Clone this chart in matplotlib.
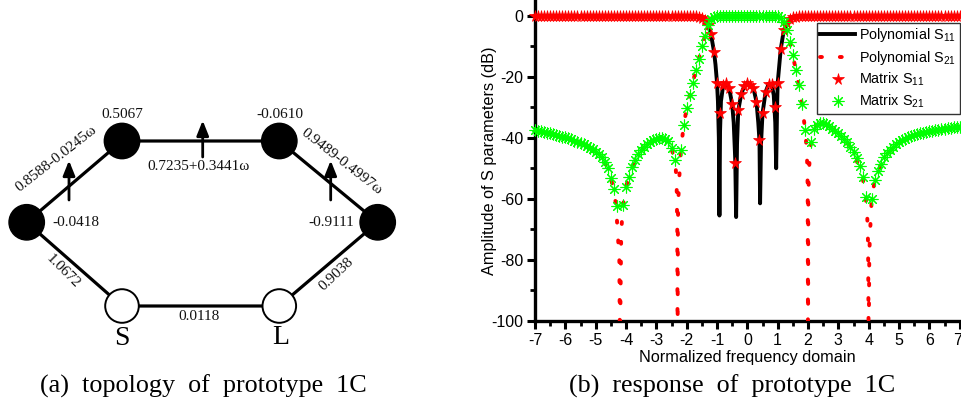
import numpy as np
import matplotlib
matplotlib.use("Agg")
import matplotlib.pyplot as plt
from matplotlib.patches import Circle
from matplotlib.transforms import ScaledTranslation

nan = np.nan

# values
freq = [i / 10 for i in range(-70, 71)]

matrix_s11 = [
    0, 0, 0, 0, 0, 0, 0, 0, 0, 0,
    0, 0, 0, 0, 0, 0, 0, 0, 0, 0,
    0, 0, 0, 0, 0, 0, 0, 0, 0, 0,
    0, 0, 0, 0, 0, 0, 0, 0, 0, 0,
    0, 0, 0, 0, 0, 0, 0, 0, 0, 0,
    0, -0.1, -0.1, -0.2, -0.4, -0.7, -1.3, -3.0, -6.0, -11.7,
    -22.0, -32.0, -22.6, -22.0, -23.7, -29.0, -48.3, -31.0, -25.6, -23.0,
    -21.9, -22.7, -23.7, -28.1, -40.7, -32.0, -25.0, -22.4, -22.4, -30.0,
    -22.0, -11.0, -4.8, -2.4, -0.9, -0.5, -0.3, -0.2, -0.1, -0.1,
    0, 0, 0, 0, 0, 0, 0, 0, 0, 0,
    0, 0, 0, 0, 0, 0, 0, 0, 0, 0,
    0, 0, 0, 0, 0, 0, 0, 0, 0, 0,
    0, 0, 0, 0, 0, 0, 0, 0, 0, 0,
    0, 0, 0, 0, 0, 0, 0, 0, 0, 0,
    0,
]

matrix_s21 = [
    -37.5, -37.7, -37.9, -38.1, -38.3, -38.5, -38.8, -39.0, -39.3, -39.6,
    -39.9, -40.2, -40.5, -40.9, -41.3, -41.7, -42.1, -42.6, -43.2, -43.8,
    -44.6, -45.4, -46.4, -48.0, -50.0, -53.2, -56.8, -62.3, nan, -62.0,
    -56.0, -52.7, -49.7, -47.2, -45.4, -44.0, -43.0, -42.1, -41.4, -40.8,
    -40.4, -40.2, -40.1, -40.4, -41.2, -43.5, -47.2, nan, -44.0, -35.7,
    -30.3, -26.0, -21.9, -17.7, -14.1, -10.0, -6.6, -3.1, -0.9, -0.4,
    -0.2, -0.1, -0.1, 0, 0, 0, 0, 0, 0, 0,
    0, 0, 0, 0, 0, 0, 0, 0, -0.1, -0.1,
    -0.2, -0.7, -2.0, -4.8, -8.6, -13.0, -17.7, -22.8, -29.0, -37.4,
    nan, -41.5, -37.0, -35.7, -35.2, -35.2, -35.6, -36.2, -37.0, -37.7,
    -38.5, -39.4, -40.4, -41.5, -43.0, -44.6, -46.7, -49.3, -53.0, -59.4,
    nan, -60.0, -54.0, -51.0, -48.5, -46.4, -45.0, -43.9, -42.9, -42.1,
    -41.4, -40.8, -40.3, -39.8, -39.4, -39.1, -38.8, -38.5, -38.3, -38.1,
    -37.9, -37.7, -37.5, -37.3, -37.2, -37.0, -36.9, -36.7, -36.6, -36.5,
    -36.4,
]

poly_s11_x = [-7, -2, -1.6, -1.4, -1.3, -1.2, -1.1, -1.05, -1.0, -0.97, -0.94, -0.92, -0.90, -0.87,
              -0.8, -0.7, -0.6, -0.5, -0.45, -0.40, -0.37, -0.34, -0.3, -0.2, -0.1,
              0, 0.1, 0.2, 0.3, 0.36, 0.40, 0.42, 0.45, 0.5, 0.6, 0.7, 0.8, 0.87,
              0.92, 0.95, 0.98, 1.0, 1.1, 1.2, 1.3, 1.4, 1.6, 2, 7]
poly_s11_y = [0, 0, -0.4, -1.3, -3, -6, -11.7, -16, -22, -28, -40, -65.5, -38, -28,
              -23, -22, -23.7, -29, -35, -47, -66, -42, -31, -25.6, -23,
              -21.9, -22.7, -23.7, -28.1, -35, -41, -61.5, -42, -32, -25, -22.4, -22.4, -26,
              -35, -50, -30, -22, -11, -4.8, -2.4, -0.9, -0.3, 0, 0]

poly_s21_x = [-7, -6, -5.5, -5, -4.7, -4.5, -4.4, -4.33, -4.28, -4.22, -4.2, -4.16, -4.13, -4.06, -4.0,
              -3.8, -3.5, -3.2, -2.9, -2.7, -2.5, -2.4, -2.36, -2.33, -2.31, -2.30, -2.29, -2.28,
              -2.25, -2.22, -2.17, -2.1, -2.0, -1.8, -1.6, -1.4, -1.3, -1.2, -1.1, -1.0, 0,
              1.0, 1.2, 1.4, 1.6, 1.8, 1.9, 1.95, 1.98, 1.99, 2.0, 2.01, 2.03, 2.07, 2.1,
              2.3, 2.5, 2.8, 3.2, 3.5, 3.8, 3.9, 3.95, 3.98, 4.0, 4.02, 4.05, 4.1, 4.2, 4.5, 5, 6, 7]
poly_s21_y = [-37.5, -39.9, -41.7, -44.6, -48, -53.2, -57.5, -62, -70, -80, -110, -73, -66, -59, -56,
              -49.7, -44, -41.4, -40.2, -40.4, -43.5, -47.2, -50, -56, -70, -110, -70, -61.5,
              -54.6, -48.4, -42, -36, -30.3, -21.9, -14.1, -6.6, -3.1, -0.9, -0.4, -0.2, 0,
              -0.2, -2, -8.6, -17.7, -29, -37, -43, -50, -60, -110, -60, -51, -44.5, -41.5,
              -35.7, -35.2, -37, -40.4, -44.6, -53, -59.4, -65, -75, -110, -78, -70, -60, -54, -46.4, -41.4, -37.9, -36.4]

x_ticks = list(range(-7, 8))
y_ticks = [0, -20, -40, -60, -80, -100]

# labels of panel (a)
node_labels = ["-0.0418", "0.5067", "-0.0610", "-0.9111"]
plain_couplings = ["1.0672", "0.0118", "0.9038"]
freq_couplings = ["0.8588-0.0245\u03c9", "0.7235+0.3441\u03c9", "0.9489-0.4997\u03c9"]

plt.rcParams["font.family"] = ["Liberation Sans", "DejaVu Sans"]
plt.rcParams["mathtext.default"] = "regular"

W, H = 962, 408
fig = plt.figure(figsize=(W / 100, H / 100), dpi=100)

# ---- panel (a), drawn in pixel coordinates
dg = fig.add_axes([0, 0, 1, 1])
dg.set_xlim(0, W)
dg.set_ylim(H, 0)
dg.axis("off")

filled = [(26.7, 222.3), (122, 141), (279.3, 141), (377.7, 222.3)]
source = (122, 306)
load = (279.3, 306)
loop = [source] + filled + [load, source]
dg.plot([p[0] for p in loop], [p[1] for p in loop], color="black", lw=2.3, zorder=1)
for p in filled:
    dg.add_patch(Circle(p, 17.7, fc="black", ec="black", zorder=2))
for p in (source, load):
    dg.add_patch(Circle(p, 16.8, fc="white", ec="black", lw=1.4, zorder=2))

for x0, y0, y1 in [(69, 200, 160.5), (202.7, 157, 120.5), (330.7, 200, 160.5)]:
    dg.annotate("", xy=(x0, y1), xytext=(x0, y0), zorder=3,
                arrowprops=dict(arrowstyle="-|>,head_length=0.5,head_width=0.2", lw=2.0,
                                color="black", shrinkA=0, shrinkB=0, mutation_scale=18))

serif = ["Liberation Serif", "DejaVu Serif"]
sz = 11
for s, p in zip(node_labels, [(75.7, 222.3), (122.3, 115), (280, 115), (331, 222.7)]):
    dg.text(p[0], p[1], s, family=serif, fontsize=sz, ha="center", va="center", color="#111111")
for s, p, r in zip(plain_couplings, [(63.3, 271), (199, 316), (336, 274)], [-45, 0, 43]):
    dg.text(p[0], p[1], s, family=serif, fontsize=sz, ha="center", va="center", rotation=r,
            rotation_mode="anchor", color="#111111")
for s, p, r in zip(freq_couplings, [(56, 159), (198.3, 166), (341.7, 161.7)], [38, 0, -38]):
    dg.text(p[0], p[1], s, family=serif, fontsize=sz, ha="center", va="center", rotation=r,
            rotation_mode="anchor", color="#111111")
dg.text(121.7, 338.3, "S", family=serif, fontsize=20, ha="center", va="center")
dg.text(281, 337.3, "L", family=serif, fontsize=20, ha="center", va="center")
dg.text(203, 386, "(a)  topology  of  prototype  1C", family=serif, fontsize=18.8, ha="center", va="center")
dg.text(732, 386.5, "(b)  response  of  prototype  1C", family=serif, fontsize=18.8, ha="center", va="center")

# ---- panel (b)
left, right = 535, 959.7
bottom, top = 320.7, 0
ax = fig.add_axes([left / W, 1 - bottom / H, (right - left) / W, (bottom - top) / H])
ax.patch.set_alpha(0)
ax.set_xlim(-7, 7)
ax.set_ylim(-100, 5.2)

ax.plot(poly_s11_x, poly_s11_y, color="black", lw=2.8, label="Polynomial S$_{11}$", zorder=2)
ax.plot(poly_s21_x, poly_s21_y, color="red", lw=2.8, dash_capstyle="round",
        linestyle=(0, (0.5, 4.6)), label="Polynomial S$_{21}$", zorder=3)
ax.plot(freq, matrix_s11, ls="none", marker="*", ms=8.5, color="red", mew=0.5,
        label="Matrix S$_{11}$", zorder=4, clip_on=False)
ax.plot(freq, matrix_s21, ls="none", marker=(8, 2, 0), ms=8.5, color="#00ff00", mew=0.8,
        label="Matrix S$_{21}$", zorder=5, clip_on=False)

for side in ("top", "right"):
    ax.spines[side].set_visible(False)
for side in ("left", "bottom"):
    ax.spines[side].set_linewidth(2.4)

ax.set_xticks(x_ticks)
ax.set_xticks(np.arange(-6.5, 7, 1), minor=True)
ax.set_yticks(y_ticks)
ax.set_yticks([-10, -30, -50, -70, -90], minor=True)
ax.set_xticklabels([str(v) for v in x_ticks])
ax.set_yticklabels([str(v) for v in y_ticks])
ax.tick_params(which="major", length=5.5, width=2.2, labelsize=11.5, pad=3)
ax.tick_params(which="minor", length=3.5, width=2.0)
ax.set_xlabel("Normalized frequency domain", fontsize=11.7, labelpad=1.5)
ax.set_ylabel("Amplitude of S parameters (dB)", fontsize=11.7, labelpad=-4)

# last x label would run off the edge of the figure
last = ax.get_xticklabels()[-1]
last.set_transform(last.get_transform() + ScaledTranslation(-2.5 / 100, 0, fig.dpi_scale_trans))

leg = ax.legend(loc="upper left", bbox_to_anchor=(816.7 / W, 1 - 22.7 / H),
                bbox_transform=fig.transFigure, fontsize=10.4, frameon=True, fancybox=False,
                framealpha=1, edgecolor="#333333", borderpad=0.25, labelspacing=0.3,
                handlelength=2.4, handletextpad=0.3, borderaxespad=0)
leg.get_frame().set_linewidth(1.0)
leg.set_zorder(10)

fig.savefig("out.png", dpi=100)
